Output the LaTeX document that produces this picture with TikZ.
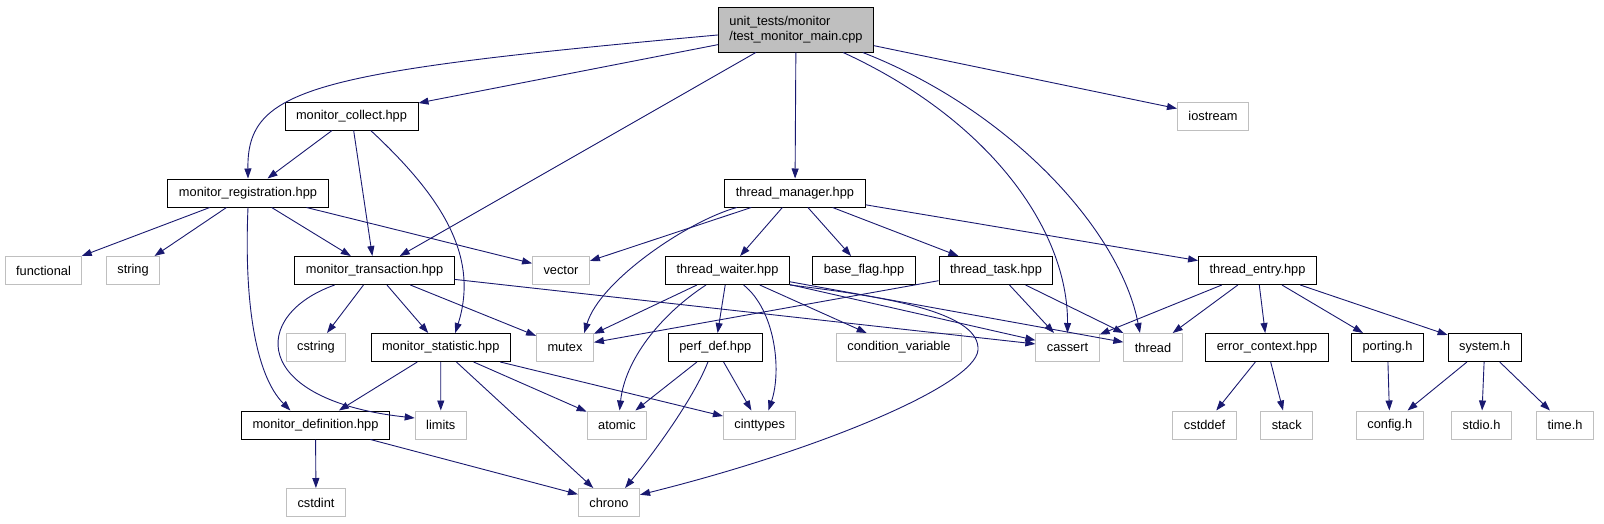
\documentclass[tikz,border=0pt]{standalone}
\usepackage{fontspec}
\setmainfont{Liberation Sans}
\usetikzlibrary{arrows.meta}

\definecolor{edgeblue}{HTML}{191970}
\definecolor{extgray}{HTML}{BFBFBF}

\tikzset{
  hdr/.style={draw=black, fill=white, line width=1pt, minimum height=28pt, inner xsep=11pt, inner ysep=0pt},
  ext/.style={hdr, draw=extgray},
  src/.style={hdr, fill=extgray, minimum height=45pt, align=left},
  inc/.style={draw=edgeblue, line width=0.9pt, -{Triangle[length=10pt,width=7pt]}}
}

\begin{document}
\begin{tikzpicture}[x=1pt, y=-1pt, font=\fontsize{12.8}{15}\selectfont]
    \fill[white] (0,0) rectangle (1604,523);
    \useasboundingbox (0,0) rectangle (1604,523);

    % Root
    \node[src] (root) at (796,29.5) {unit\_tests/monitor\\/test\_monitor\_main.cpp};

    % Row 1
    \node[hdr] (collect) at (351.5,116) {monitor\_collect.hpp};
    \node[ext] (iostream) at (1213,116) {iostream};

    % Row 2
    \node[hdr] (reg) at (248,193) {monitor\_registration.hpp};
    \node[hdr] (tm) at (795,193) {thread\_manager.hpp};

    % Row 3
    \node[ext] (functional) at (43.5,270.5) {functional};
    \node[ext] (string) at (133,270.5) {string};
    \node[hdr] (trans) at (374.5,270.5) {monitor\_transaction.hpp};
    \node[ext] (vector) at (561,270.5) {vector};
    \node[hdr] (tw) at (727.5,270.5) {thread\_waiter.hpp};
    \node[hdr] (baseflag) at (864,270.5) {base\_flag.hpp};
    \node[hdr] (task) at (996,270.5) {thread\_task.hpp};
    \node[hdr] (entry) at (1257.5,270.5) {thread\_entry.hpp};

    % Row 4
    \node[ext] (cstring) at (316,347.5) {cstring};
    \node[hdr] (stat) at (440.7,347.5) {monitor\_statistic.hpp};
    \node[ext] (mutex) at (565,347.5) {mutex};
    \node[hdr] (perfdef) at (715.3,347.5) {perf\_def.hpp};
    \node[ext] (condvar) at (899,347.5) {condition\_variable};
    \node[ext] (cassert) at (1067.5,347.5) {cassert};
    \node[ext] (thread) at (1153,347.5) {thread};
    \node[hdr] (errctx) at (1267,347.5) {error\_context.hpp};
    \node[hdr] (porting) at (1387.5,347.5) {porting.h};
    \node[hdr] (system) at (1484.7,347.5) {system.h};

    % Row 5
    \node[hdr] (def) at (315.5,425) {monitor\_definition.hpp};
    \node[ext] (limits) at (440.8,425) {limits};
    \node[ext] (atomic) at (617,425) {atomic};
    \node[ext] (cinttypes) at (759.7,425) {cinttypes};
    \node[ext] (cstddef) at (1204.6,425) {cstddef};
    \node[ext] (stack) at (1286.7,425) {stack};
    \node[ext] (config) at (1389.8,425) {config.h};
    \node[ext] (stdio) at (1481.5,425) {stdio.h};
    \node[ext] (time) at (1565,425) {time.h};

    % Row 6
    \node[ext] (cstdint) at (316,502.5) {cstdint};
    \node[ext] (chrono) at (609,502.5) {chrono};

    % Includes of the root
    \draw[inc] (root.184) .. controls (310,72) and (247,88) .. (reg.north);
    \draw[inc] (root) -- (collect);
    \draw[inc] (root) -- (trans);
    \draw[inc] (root) -- (tm);
    \draw[inc] (root.-26) .. controls (990,120) and (1068,230) .. (cassert.north);
    \draw[inc] (root.-19) .. controls (1010,110) and (1120,230) .. (thread.132);
    \draw[inc] (root) -- (iostream);

    % monitor_collect.hpp
    \draw[inc] (collect) -- (reg);
    \draw[inc] (collect) -- (trans);
    \draw[inc] (collect.-37) .. controls (440,195) and (480,255) .. (stat.45);

    % monitor_registration.hpp
    \draw[inc] (reg) -- (functional);
    \draw[inc] (reg) -- (string);
    \draw[inc] (reg) -- (trans);
    \draw[inc] (reg) -- (vector);
    \draw[inc] (reg.south) .. controls (244,300) and (255,375) .. (def.150);

    % thread_manager.hpp
    \draw[inc] (tm) -- (vector);
    \draw[inc] (tm.-166) .. controls (690,220) and (600,280) .. (mutex.37);
    \draw[inc] (tm) -- (tw);
    \draw[inc] (tm) -- (baseflag);
    \draw[inc] (tm) -- (task);
    \draw[inc] (tm) -- (entry);

    % monitor_transaction.hpp
    \draw[inc] (trans.-160) .. controls (250,315) and (250,400) .. (limits.165);
    \draw[inc] (trans) -- (cstring);
    \draw[inc] (trans) -- (stat);
    \draw[inc] (trans) -- (mutex);
    \draw[inc] (trans) -- (cassert);

    % thread_waiter.hpp
    \draw[inc] (tw) -- (mutex);
    \draw[inc] (tw.-146) .. controls (660,315) and (625,360) .. (atomic.80);
    \draw[inc] (tw) -- (perfdef);
    \draw[inc] (tw.-42) .. controls (775,310) and (782,370) .. (cinttypes.59);
    \draw[inc] (tw) -- (condvar);
    \draw[inc] (tw) -- (cassert);
    \draw[inc] (tw) -- (thread);
    \draw[inc] (tw.south east) .. controls (900,298) and (980,315) .. (978,350)
        .. controls (975,385) and (820,450) .. (chrono.14);

    % thread_task.hpp
    \draw[inc] (task) -- (mutex);
    \draw[inc] (task) -- (cassert);
    \draw[inc] (task) -- (thread);

    % thread_entry.hpp
    \draw[inc] (entry) -- (cassert);
    \draw[inc] (entry) -- (thread);
    \draw[inc] (entry) -- (errctx);
    \draw[inc] (entry) -- (porting);
    \draw[inc] (entry) -- (system);

    % monitor_statistic.hpp
    \draw[inc] (stat) -- (def);
    \draw[inc] (stat) -- (limits);
    \draw[inc] (stat) -- (chrono);
    \draw[inc] (stat) -- (atomic);
    \draw[inc] (stat) -- (cinttypes);

    % perf_def.hpp
    \draw[inc] (perfdef) -- (atomic);
    \draw[inc] (perfdef) -- (cinttypes);
    \draw[inc] (perfdef.-117) .. controls (695,395) and (660,445) .. (chrono.42);

    % monitor_definition.hpp
    \draw[inc] (def) -- (cstdint);
    \draw[inc] (def) -- (chrono);

    % error_context.hpp, porting.h, system.h
    \draw[inc] (errctx) -- (cstddef);
    \draw[inc] (errctx) -- (stack);
    \draw[inc] (porting) -- (config);
    \draw[inc] (system) -- (config);
    \draw[inc] (system) -- (stdio);
    \draw[inc] (system) -- (time);
\end{tikzpicture}
\end{document}
